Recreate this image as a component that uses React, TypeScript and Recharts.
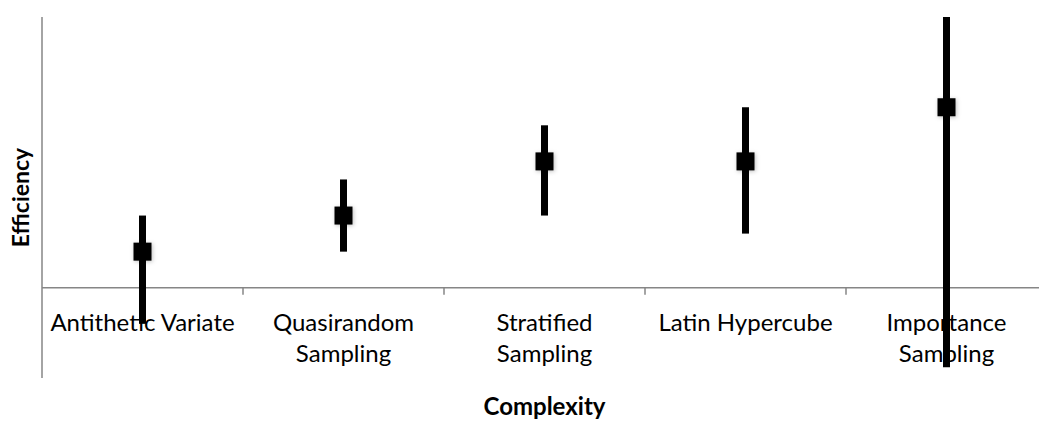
import { ComposedChart, Scatter, ErrorBar, XAxis, YAxis, ReferenceLine, Label } from 'recharts';

const categories = ['Antithetic Variate', 'Quasirandom Sampling', 'Stratified Sampling', 'Latin Hypercube', 'Importance Sampling'];
const tickLines = [['Antithetic Variate'], ['Quasirandom', 'Sampling'], ['Stratified', 'Sampling'], ['Latin Hypercube'], ['Importance', 'Sampling']];
const efficiency = [0.4, 0.8, 1.4, 1.4, 2.0];
const lowValues = [-0.4, 0.4, 0.8, 0.6, -0.88];
const highValues = [0.8, 1.2, 1.8, 2.0, 3.0];
const yDomain: [number, number] = [-1, 3];

const data = categories.map((name, i) => ({
  name,
  value: efficiency[i],
  err: [efficiency[i] - lowValues[i], highValues[i] - efficiency[i]],
}));

const W = 1048;
const H = 421;
const margin = { top: 17, right: 1, left: 0, bottom: 0 };
const yAxisW = 42;
const xAxisH = 43;
const plotW = W - margin.left - margin.right - yAxisW;
const plotH = H - margin.top - margin.bottom - xAxisH;
const band = plotW / categories.length;
// distance from plot bottom up to the zero line
const zeroUp = (plotH * (0 - yDomain[0])) / (yDomain[1] - yDomain[0]);
const FONT = 'Lato, "Liberation Sans", sans-serif';

const CategoryTick = (props: any) => {
  const { x, y, index } = props;
  const zeroY = y - zeroUp;
  const lines = tickLines[index] || [];
  return (
    <g>
      {index > 0 && (
        <line x1={x - band / 2} x2={x - band / 2} y1={zeroY} y2={zeroY + 7} stroke="#868686" strokeWidth={1.5} />
      )}
      {lines.map((l: string, k: number) => (
        <text key={k} x={x} y={zeroY + 43 + k * 31} textAnchor="middle" fontSize={24} fontFamily={FONT} fill="#000">
          {l}
        </text>
      ))}
    </g>
  );
};

const SquareDot = (props: any) => {
  const { cx, cy } = props;
  return <rect x={cx - 9} y={cy - 9} width={18} height={18} fill="#000" filter="url(#dotShadow)" />;
};

export default function App() {
  return (
    <div style={{ position: 'absolute', left: 0, top: 0, width: 1039, height: 421, overflow: 'hidden', background: '#fff' }}>
      <ComposedChart width={W} height={H} data={data} margin={margin}>
        <defs>
          <filter id="dotShadow" x="-50%" y="-50%" width="200%" height="200%">
            <feDropShadow dx="1" dy="1" stdDeviation="2" floodColor="#000" floodOpacity="0.25" />
          </filter>
        </defs>
        <XAxis
          dataKey="name"
          type="category"
          height={xAxisH}
          padding={{ left: band / 2, right: band / 2 }}
          axisLine={false}
          tickLine={false}
          tickSize={0}
          tickMargin={0}
          interval={0}
          tick={<CategoryTick />}
        >
          <Label value="Complexity" position="insideBottom" offset={6} fontSize={24} fontWeight="bold" fontFamily={FONT} fill="#000" />
        </XAxis>
        <YAxis
          type="number"
          domain={yDomain}
          width={yAxisW}
          tick={false}
          tickLine={false}
          axisLine={{ stroke: '#868686', strokeWidth: 1.5 }}
        >
          <Label
            value="Efficiency"
            angle={-90}
            position="insideLeft"
            offset={21}
            fontSize={23}
            fontWeight="bold"
            fontFamily={FONT}
            fill="#000"
            style={{ textAnchor: 'middle' }}
          />
        </YAxis>
        <ReferenceLine y={0} stroke="#868686" strokeWidth={1.5} />
        <Scatter dataKey="value" fill="#000" shape={<SquareDot />} isAnimationActive={false}>
          <ErrorBar dataKey="err" direction="y" width={0} stroke="#000" strokeWidth={7} />
        </Scatter>
      </ComposedChart>
    </div>
  );
}
